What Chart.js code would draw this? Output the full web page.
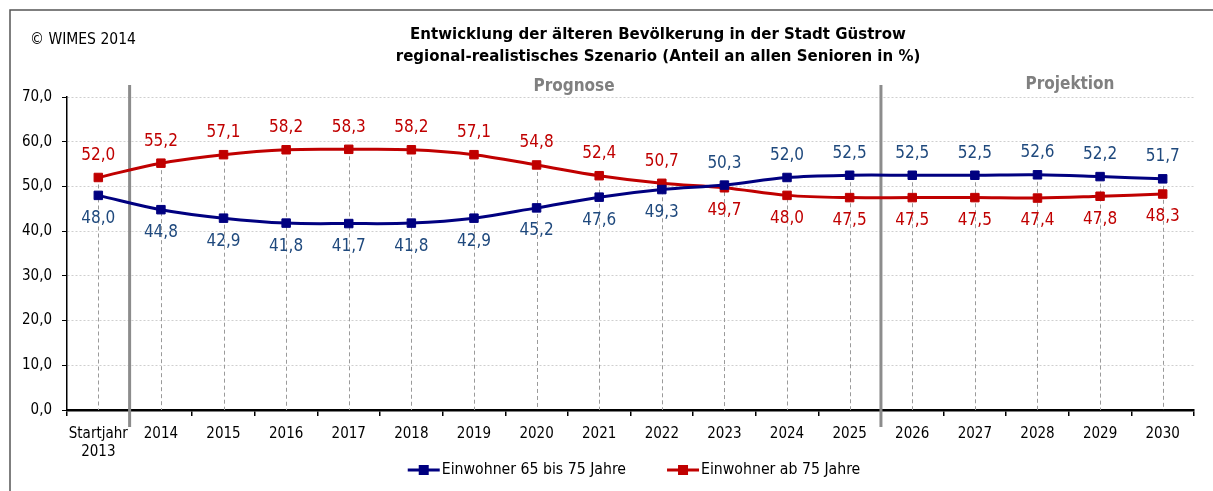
<!DOCTYPE html>
<html lang="de">
<head>
    <meta charset="UTF-8">
    <title>Entwicklung der älteren Bevölkerung in der Stadt Güstrow</title>
    <style>
body, html {
    margin: 0;
    padding: 0;
    background-color: #ffffff;
}
#seniorChart {
    display: block;
}
    </style>
    <script src="https://cdn.jsdelivr.net/npm/chart.js"></script>
</head>
<body>
    <canvas id="seniorChart" width="1213" height="491"></canvas>

    <script>
        // Jahre (erste Kategorie zweizeilig)
        const years = [['Startjahr', '2013'], '2014', '2015', '2016', '2017', '2018', '2019', '2020',
            '2021', '2022', '2023', '2024', '2025', '2026', '2027', '2028', '2029', '2030'];

        // Anteil an allen Senioren in %
        const age65to75 = [48.0, 44.8, 42.9, 41.8, 41.7, 41.8, 42.9, 45.2, 47.6, 49.3, 50.3, 52.0,
            52.5, 52.5, 52.5, 52.6, 52.2, 51.7];
        const age75plus = [52.0, 55.2, 57.1, 58.2, 58.3, 58.2, 57.1, 54.8, 52.4, 50.7, 49.7, 48.0,
            47.5, 47.5, 47.5, 47.4, 47.8, 48.3];

        const seriesNames = ['Einwohner 65 bis 75 Jahre', 'Einwohner ab 75 Jahre'];
        const titleLines = ['Entwicklung der älteren Bevölkerung in der Stadt Güstrow',
            'regional-realistisches Szenario (Anteil an allen Senioren in %)'];
        const copyright = '© WIMES 2014';

        // Abschnitte: Trennlinie nach Index 0 (Prognose) und nach Index 12 (Projektion)
        const sections = [
            { label: 'Prognose', after: 0 },
            { label: 'Projektion', after: 12 }
        ];

        const FONT = '"DejaVu Sans Condensed", "DejaVu Sans", sans-serif';
        const TITLE_FONT = '"DejaVu Sans", sans-serif';
        const BLUE = '#000080';
        const RED = '#c00000';
        const BLUE_TEXT = '#1f497d';

        const fmt = v => v.toFixed(1).replace('.', ',');

        const overlay = {
            id: 'overlay',
            beforeDatasetsDraw(chart) {
                const ctx = chart.ctx;
                const x = chart.scales.x, y = chart.scales.y;
                ctx.save();
                // Lotlinien vom höheren Punkt zur Achse
                ctx.strokeStyle = '#9a9a9a';
                ctx.lineWidth = 1;
                ctx.setLineDash([4, 3]);
                years.forEach((_, i) => {
                    const px = Math.round(x.getPixelForValue(i)) + 0.5;
                    const top = y.getPixelForValue(Math.max(age65to75[i], age75plus[i]));
                    ctx.beginPath();
                    ctx.moveTo(px, top);
                    ctx.lineTo(px, y.bottom);
                    ctx.stroke();
                });
                ctx.restore();

                // Trennlinien Prognose / Projektion
                ctx.save();
                ctx.strokeStyle = '#8c8c8c';
                ctx.lineWidth = 3;
                sections.forEach(s => {
                    const px = (x.getPixelForValue(s.after) + x.getPixelForValue(s.after + 1)) / 2;
                    ctx.beginPath();
                    ctx.moveTo(px, 85);
                    ctx.lineTo(px, y.bottom + 17);
                    ctx.stroke();
                });
                ctx.restore();
            },
            afterDatasetsDraw(chart) {
                const ctx = chart.ctx;
                ctx.save();
                ctx.font = '17px ' + FONT;
                ctx.textAlign = 'center';
                ctx.textBaseline = 'middle';
                chart.data.datasets.forEach((ds, di) => {
                    const other = chart.data.datasets[1 - di].data;
                    const meta = chart.getDatasetMeta(di);
                    ctx.fillStyle = di === 0 ? BLUE_TEXT : RED;
                    meta.data.forEach((pt, i) => {
                        const above = ds.data[i] > other[i];
                        ctx.fillText(fmt(ds.data[i]), pt.x, pt.y + (above ? -22 : 23));
                    });
                });
                ctx.restore();
            },
            afterDraw(chart) {
                const ctx = chart.ctx;
                ctx.save();

                // Rahmen oben und links
                ctx.strokeStyle = '#555555';
                ctx.lineWidth = 1.5;
                ctx.beginPath();
                ctx.moveTo(10, chart.height);
                ctx.lineTo(10, 10);
                ctx.lineTo(chart.width, 10);
                ctx.stroke();

                ctx.fillStyle = '#000';
                ctx.textBaseline = 'middle';
                ctx.font = '15.5px ' + FONT;
                ctx.textAlign = 'left';
                ctx.fillText(copyright, 30, 40);

                ctx.font = 'bold 15px ' + TITLE_FONT;
                ctx.textAlign = 'center';
                ctx.fillText(titleLines[0], 658, 35);
                ctx.fillText(titleLines[1], 658, 57);

                // Abschnittsbeschriftungen
                ctx.fillStyle = '#808080';
                ctx.font = 'bold 17px ' + FONT;
                ctx.fillText(sections[0].label, 574, 87);
                ctx.fillText(sections[1].label, 1070, 85);

                // Legende
                ctx.font = '15.7px ' + FONT;
                ctx.textAlign = 'left';
                const colors = [BLUE, RED];
                const gap = 41;
                const widths = seriesNames.map(n => 34 + ctx.measureText(n).width);
                let lx = 634 - (widths[0] + widths[1] + gap) / 2;
                const ly = 470;
                seriesNames.forEach((name, i) => {
                    ctx.strokeStyle = colors[i];
                    ctx.fillStyle = colors[i];
                    ctx.lineWidth = 3;
                    ctx.beginPath();
                    ctx.moveTo(lx, ly);
                    ctx.lineTo(lx + 32, ly);
                    ctx.stroke();
                    ctx.fillRect(lx + 11, ly - 5, 10, 10);
                    ctx.fillStyle = '#000';
                    ctx.fillText(name, lx + 34, ly);
                    lx += widths[i] + gap;
                });
                ctx.restore();
            }
        };

        Chart.defaults.font.family = FONT;
        Chart.defaults.color = '#000';

        new Chart(document.getElementById('seniorChart').getContext('2d'), {
            type: 'line',
            data: {
                labels: years,
                datasets: [{
                    label: seriesNames[0],
                    data: age65to75,
                    borderColor: BLUE,
                    backgroundColor: BLUE,
                    borderWidth: 3,
                    pointStyle: 'rect',
                    pointRadius: 6,
                    pointBorderWidth: 1,
                    tension: 0.35,
                    fill: false
                }, {
                    label: seriesNames[1],
                    data: age75plus,
                    borderColor: RED,
                    backgroundColor: RED,
                    borderWidth: 3,
                    pointStyle: 'rect',
                    pointRadius: 6,
                    pointBorderWidth: 1,
                    tension: 0.35,
                    fill: false
                }]
            },
            options: {
                responsive: false,
                animation: false,
                layout: { padding: { left: 0, top: 97, right: 19, bottom: 31 } },
                plugins: {
                    legend: { display: false },
                    title: { display: false },
                    tooltip: { enabled: false }
                },
                scales: {
                    x: {
                        offset: true,
                        afterFit: s => { s.height = 50; },
                        grid: { offset: true, drawOnChartArea: false, tickLength: 6, tickColor: '#000', lineWidth: 1.5 },
                        border: { color: '#000', width: 2.5 },
                        ticks: { font: { size: 15, lineHeight: 1.2 }, color: '#000', padding: 9, maxRotation: 0, autoSkip: false }
                    },
                    y: {
                        min: 0,
                        max: 70,
                        afterFit: s => { s.width = 67; },
                        grid: { color: '#cfcfcf', tickColor: '#000', tickLength: 5 },
                        border: { color: '#000', width: 1.5, dash: [2, 2] },
                        ticks: {
                            stepSize: 10,
                            font: { size: 15 },
                            color: '#000',
                            padding: 10,
                            callback: v => fmt(v)
                        }
                    }
                }
            },
            plugins: [overlay]
        });
    </script>
</body>
</html>
